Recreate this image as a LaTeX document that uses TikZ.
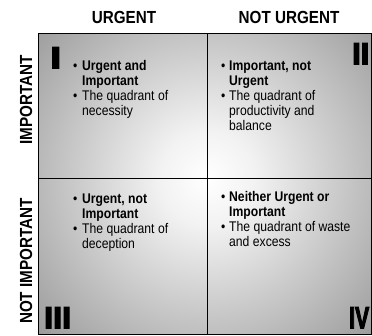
\documentclass[tikz,border=0pt]{standalone}
\usepackage{fontspec}
\usepackage{graphicx}
\setmainfont{Liberation Sans}[FakeStretch=0.87]
\newfontfamily\numfont{Liberation Sans}[UprightFont={* Bold}, UprightFeatures={FakeBold=4}]
\pgfdeclareradialshading{quadshade}{\pgfpoint{0bp}{0bp}}{color(0bp)=(white); color(5bp)=(white!95!black); color(25bp)=(black!40); color(50bp)=(black!40)}
\tikzset{
  head/.style={font=\bfseries\fontsize{17.5}{20}\selectfont, inner sep=0pt, anchor=base},
  side/.style={font=\bfseries\fontsize{17.5}{20}\selectfont, inner sep=0pt, anchor=base, rotate=90},
  bline/.style={font=\bfseries\fontsize{14}{15}\selectfont, inner sep=0pt, anchor=base west},
  nline/.style={font=\fontsize{14}{15}\selectfont, inner sep=0pt, anchor=base west},
  numeral/.style={font=\numfont, inner sep=0pt, anchor=north west},
  quad/.style={draw=black, line width=0.9pt, inner sep=0pt}
}
\begin{document}
\begin{tikzpicture}[x=1pt,y=-1pt]
\useasboundingbox (0,0) rectangle (372,335);
% shading
\begin{scope}
  \clip (38,33) rectangle (371,334);
  \shade[shading=quadshade] (207,178) circle[radius=235];
\end{scope}
% quadrants
\draw[quad] (38,33) rectangle (371,334);
\draw[quad] (207,33) -- (207,334);
\draw[quad] (38,178) -- (371,178);
% headings
\node[head] (hu) at (124,23) {URGENT};
\node[head] (hnu) at (289,23) {NOT URGENT};
\node[side] (si) at (32,100) {IMPORTANT};
\node[side] (sni) at (32,261) {NOT IMPORTANT};
% numerals
\node[numeral] (n1) at (50,47) {\resizebox{11pt}{21pt}{I}};
\node[numeral] (n2) at (352,43) {\resizebox{17pt}{21pt}{II}};
\node[numeral] (n3) at (44,307) {\resizebox{27pt}{21pt}{III}};
\node[numeral] (n4) at (349,307) {\resizebox{20pt}{21pt}{IV}};
% quadrant I
\node[nline] (b1a) at (73,70) {•};
\node[bline] (t1a) at (82,70) {Urgent and};
\node[bline] (t1b) at (82,85) {Important};
\node[nline] (b1b) at (73,100) {•};
\node[nline] (t1c) at (82,100) {The quadrant of};
\node[nline] (t1d) at (82,115) {necessity};
% quadrant II
\node[nline] (b2a) at (221,70) {•};
\node[bline] (t2a) at (229,70) {Important, not};
\node[bline] (t2b) at (229,85) {Urgent};
\node[nline] (b2b) at (221,100) {•};
\node[nline] (t2c) at (229,100) {The quadrant of};
\node[nline] (t2d) at (229,115) {productivity and};
\node[nline] (t2e) at (229,130) {balance};
% quadrant III
\node[nline] (b3a) at (73,203) {•};
\node[bline] (t3a) at (82,203) {Urgent, not};
\node[bline] (t3b) at (82,218) {Important};
\node[nline] (b3b) at (73,233) {•};
\node[nline] (t3c) at (82,233) {The quadrant of};
\node[nline] (t3d) at (82,248) {deception};
% quadrant IV
\node[nline] (b4a) at (221,201) {•};
\node[bline] (t4a) at (229,201) {Neither Urgent or};
\node[bline] (t4b) at (229,216) {Important};
\node[nline] (b4b) at (221,231) {•};
\node[nline] (t4c) at (229,231) {The quadrant of waste};
\node[nline] (t4d) at (229,246) {and excess};
\end{tikzpicture}
\end{document}
